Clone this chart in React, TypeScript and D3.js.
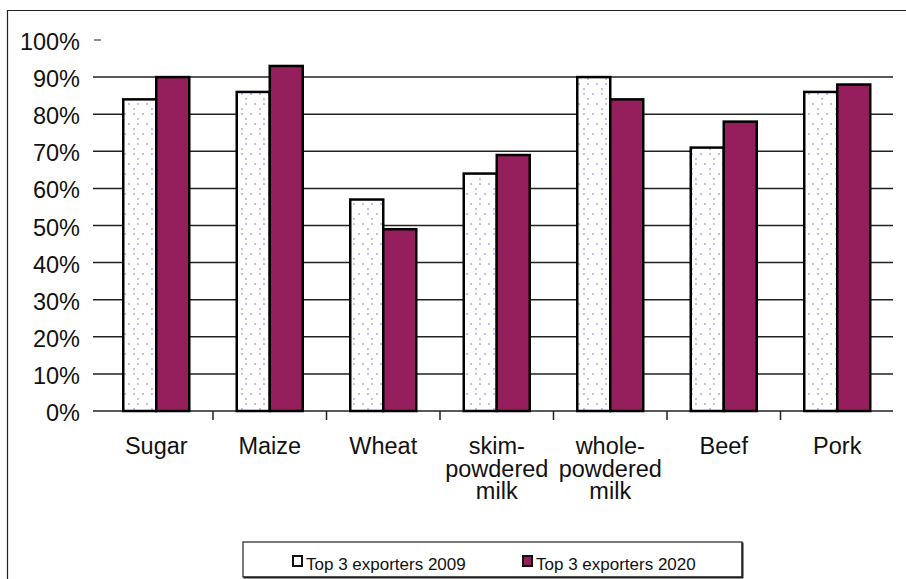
import React from "react";
import * as d3 from "d3";

// Share of world exports held by the top 3 exporters, by commodity
const categories: string[][] = [
  ["Sugar"],
  ["Maize"],
  ["Wheat"],
  ["skim-", "powdered", "milk"],
  ["whole-", "powdered", "milk"],
  ["Beef"],
  ["Pork"],
];
const share2009: number[] = [84, 86, 57, 64, 90, 71, 86];
const share2020: number[] = [90, 93, 49, 69, 84, 78, 88];
const seriesNames: string[] = ["Top 3 exporters 2009", "Top 3 exporters 2020"];
const yTicks: number[] = [0, 10, 20, 30, 40, 50, 60, 70, 80, 90, 100];

const W = 906;
const H = 579;
const FONT = "'Liberation Sans', Arial, Helvetica, sans-serif";
const MAROON = "#951f5c";
const DOT = "#a3a3e6";

export default function App() {
  const keys = categories.map((c) => c.join(" "));
  const x0 = d3.scaleBand<string>().domain(keys).range([99.5, 894]).padding(0);
  const bw = x0.bandwidth();
  const groupW = 66;
  const x1 = d3
    .scaleBand<string>()
    .domain(seriesNames)
    .range([(bw - groupW) / 2, (bw + groupW) / 2])
    .padding(0);
  const y = d3.scaleLinear().domain([0, 100]).range([411, 40]);

  const gridX0 = 93;
  const gridX1 = 893;

  return (
    <div style={{ position: "absolute", left: 0, top: 0 }}>
      <svg width={W} height={H} style={{ display: "block" }} fontFamily={FONT}>
        <defs>
          <pattern id="dots" width="18" height="20" patternUnits="userSpaceOnUse" x="123" y="0">
            <rect width="18" height="20" fill="#ffffff" />
            <circle cx="6" cy="4" r="0.9" fill={DOT} />
            <circle cx="15" cy="4" r="0.9" fill={DOT} />
            <circle cx="11" cy="9" r="0.9" fill={DOT} />
            <circle cx="2" cy="14" r="0.9" fill={DOT} />
            <circle cx="11" cy="14" r="0.9" fill={DOT} />
            <circle cx="15" cy="19" r="0.9" fill={DOT} />
          </pattern>
        </defs>
        <rect x={0} y={0} width={W} height={H} fill="#ffffff" />
        {/* outer frame */}
        <path d={`M7.5,${H + 2} V10.5 H${W + 2}`} fill="none" stroke="#222" strokeWidth={1.2} />

        {/* gridlines */}
        {yTicks
          .filter((t) => t < 100)
          .map((t) => (
            <line
              key={`g${t}`}
              x1={gridX0}
              x2={gridX1}
              y1={y(t)}
              y2={y(t)}
              stroke="#222"
              strokeWidth={1.5}
            />
          ))}
        <line x1={gridX0 + 1} x2={gridX0 + 8} y1={y(100)} y2={y(100)} stroke="#444" strokeWidth={1.2} />

        {/* y labels */}
        {yTicks.map((t) => (
          <text
            key={`yl${t}`}
            x={80}
            y={y(t) + 10}
            textAnchor="end"
            fontSize={23.5}
            fill="#111"
          >
            {t}%
          </text>
        ))}

        {/* category separators */}
        {keys.slice(1).map((k) => (
          <line
            key={`t${k}`}
            x1={x0(k)!}
            x2={x0(k)!}
            y1={y(0)}
            y2={y(0) + 9}
            stroke="#222"
            strokeWidth={1.5}
          />
        ))}

        {/* bars */}
        {keys.map((k, i) => {
          const bx = x0(k)!;
          const vals = [share2009[i], share2020[i]];
          return (
            <g key={`b${k}`}>
              {seriesNames.map((s, j) => {
                const top = y(vals[j]);
                return (
                  <rect
                    key={s}
                    x={bx + x1(s)!}
                    y={top}
                    width={x1.bandwidth()}
                    height={y(0) - top}
                    fill={j === 0 ? "url(#dots)" : MAROON}
                    stroke="#000"
                    strokeWidth={2.5}
                  />
                );
              })}
            </g>
          );
        })}

        {/* category labels */}
        {categories.map((lines, i) => {
          const cx = x0(keys[i])! + bw / 2;
          return (
            <text key={`c${i}`} x={cx} y={454} textAnchor="middle" fontSize={23.5} fill="#111">
              {lines.map((ln, li) => (
                <tspan key={li} x={cx} dy={li === 0 ? 0 : 22.5}>
                  {ln}
                </tspan>
              ))}
            </text>
          );
        })}

        {/* legend */}
        <g>
          <rect x={243} y={542} width={499} height={35} fill="#fff" stroke="#222" strokeWidth={1.2} />
          <path d="M742.5,542.5 V577.5 H243.5" fill="none" stroke="#222" strokeWidth={2} />
          {seriesNames.map((s, j) => {
            const lx = j === 0 ? 293 : 523;
            return (
              <g key={`lg${s}`}>
                <rect
                  x={lx}
                  y={556}
                  width={9}
                  height={10}
                  fill={j === 0 ? "#fff" : MAROON}
                  stroke="#111"
                  strokeWidth={2}
                />
                <text x={lx + 13} y={570} fontSize={17} fill="#111">
                  {s}
                </text>
              </g>
            );
          })}
        </g>
      </svg>
    </div>
  );
}
